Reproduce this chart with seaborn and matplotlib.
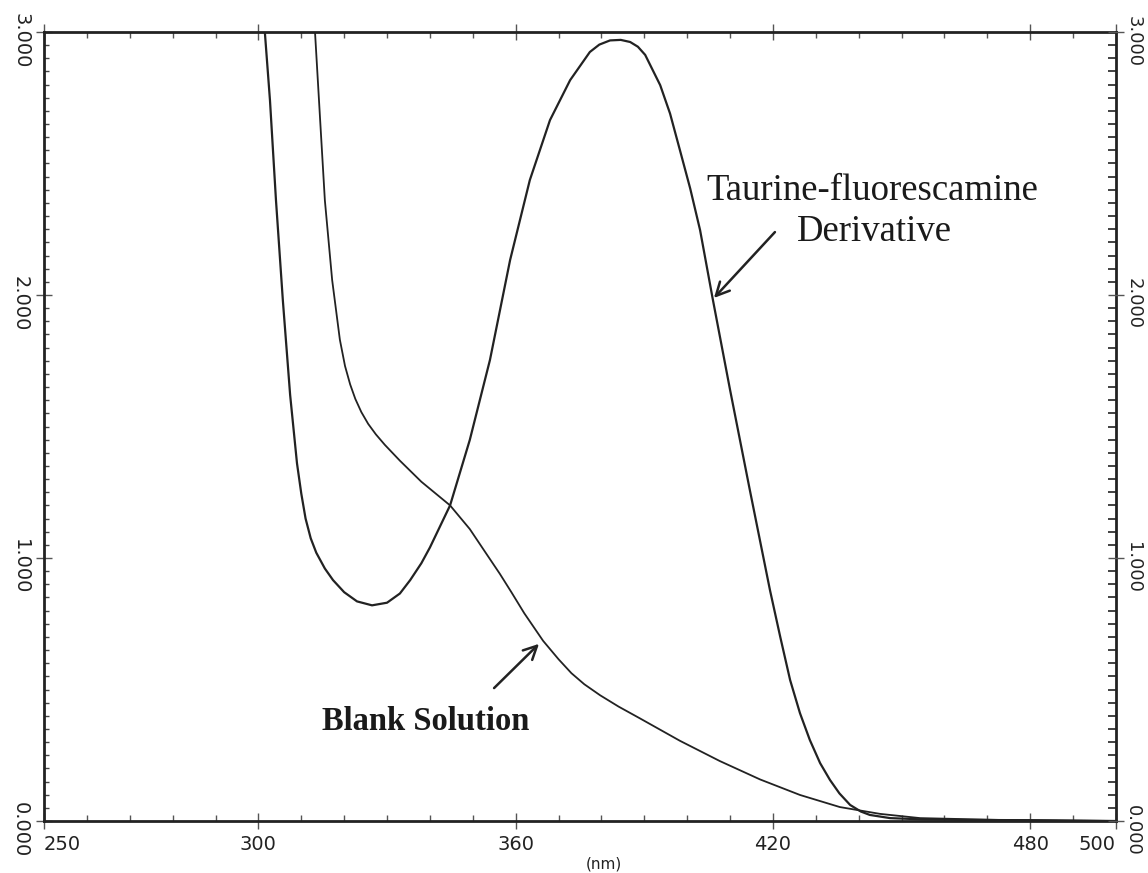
import numpy as np
import pandas as pd
import matplotlib
matplotlib.use("Agg")
import matplotlib.pyplot as plt
import matplotlib.transforms as mtransforms
from matplotlib.ticker import MultipleLocator, FixedLocator
import seaborn as sns

# ---- data ----
taurine_nm = [301.5, 302.7, 304.1, 305.7, 307.4, 309.0, 310.0, 311.0, 312.2, 313.5, 315.5,
              317.4, 320.0, 323.0, 326.5, 330.0, 333.0, 335.4, 338.0, 340.0, 344.7, 349.3,
              354.0, 358.7, 363.3, 368.0, 372.7, 377.3, 379.5, 382.0, 384.5, 386.7, 388.5,
              390.2, 393.7, 396.0, 398.3, 400.7, 403.0, 406.0, 410.0, 414.6, 419.3, 421.7,
              424.0, 426.3, 428.6, 431.0, 433.3, 435.5, 438.0, 440.5, 442.6, 447.3, 455.0,
              465.0, 480.0, 500.0]
taurine_abs = [3.0, 2.74, 2.36, 1.98, 1.62, 1.36, 1.245, 1.15, 1.075, 1.02, 0.96,
               0.916, 0.87, 0.835, 0.82, 0.83, 0.865, 0.916, 0.98, 1.04, 1.20, 1.449,
               1.753, 2.133, 2.437, 2.665, 2.817, 2.924, 2.952, 2.968, 2.970, 2.962, 2.944,
               2.913, 2.798, 2.69, 2.551, 2.405, 2.247, 1.981, 1.639, 1.259, 0.878, 0.70,
               0.536, 0.41, 0.308, 0.22, 0.156, 0.105, 0.061, 0.036, 0.023, 0.011, 0.006,
               0.004, 0.003, 0.0]
blank_nm = [313.2, 314.4, 315.5, 317.2, 319.0, 320.2, 321.4, 322.6, 324.0, 325.6, 327.4,
            329.5, 333.0, 338.0, 344.7, 349.3, 353.0, 356.3, 359.0, 362.0, 366.4, 370.0,
            373.0, 376.0, 379.7, 384.0, 389.0, 398.3, 407.6, 417.0, 426.3, 435.6, 445.0,
            454.3, 473.0, 500.0]
blank_abs = [3.0, 2.665, 2.36, 2.057, 1.83, 1.73, 1.66, 1.605, 1.555, 1.51, 1.47,
             1.43, 1.37, 1.29, 1.20, 1.11, 1.02, 0.94, 0.87, 0.79, 0.685, 0.615,
             0.562, 0.52, 0.478, 0.435, 0.39, 0.305, 0.228, 0.158, 0.099, 0.053, 0.027,
             0.011, 0.004, 0.0]
x_ticks = [250, 300, 360, 420, 480, 500]
y_ticks = [0, 1, 2, 3]
y_labels = ["0.000", "1.000", "2.000", "3.000"]

sns.set_theme(style="white")
plt.rcParams['font.family'] = ['DejaVu Sans']

INK = "#222222"
fig = plt.figure(figsize=(11.48, 8.73), dpi=100)
ax = fig.add_axes([44/1148, 52/873, (1116-44)/1148, (821-32)/873])

df_t = pd.DataFrame({"nm": taurine_nm, "abs": taurine_abs})
df_b = pd.DataFrame({"nm": blank_nm, "abs": blank_abs})
sns.lineplot(data=df_t, x="nm", y="abs", ax=ax, color=INK, lw=1.6, sort=False)
sns.lineplot(data=df_b, x="nm", y="abs", ax=ax, color=INK, lw=1.3, sort=False)

ax.set_xlim(250, 500)
ax.set_ylim(0, 3)

for s in ax.spines.values():
    s.set_color(INK)
    s.set_linewidth(2)

# x axis
ax.xaxis.set_major_locator(FixedLocator(x_ticks))
ax.set_xticklabels([str(v) for v in x_ticks], fontsize=14, color=INK)
xl = ax.get_xticklabels()
xl[0].set_ha("left")
xl[-1].set_ha("right")
ax.xaxis.set_minor_locator(MultipleLocator(10))
ax.tick_params(axis="x", which="major", direction="inout", length=12, width=1, color="#555555",
               top=True, bottom=True, pad=4)
ax.tick_params(axis="x", which="minor", direction="in", length=4, width=1, color="#555555",
               top=True, bottom=True)

# left y axis
ax.yaxis.set_major_locator(FixedLocator(y_ticks))
ax.yaxis.set_minor_locator(MultipleLocator(0.05))
ax.tick_params(axis="y", which="major", direction="inout", length=12, width=1, color="#555555",
               left=True, right=False, labelleft=True, labelright=False, pad=4)
ax.tick_params(axis="y", which="minor", direction="in", length=3.5, width=1, color="#444444",
               left=True, right=False)
ax.set_yticklabels(y_labels, rotation=-90, va="center", fontsize=14, color=INK)

# right y axis
ax2 = ax.twinx()
ax2.set_ylim(0, 3)
ax2.yaxis.set_major_locator(FixedLocator(y_ticks))
ax2.yaxis.set_minor_locator(MultipleLocator(0.05))
ax2.tick_params(axis="y", which="major", direction="inout", length=12, width=1, color="#555555",
                right=True, labelright=True, pad=0)
ax2.tick_params(axis="y", which="minor", direction="in", length=6, width=1.2, color=INK,
                right=True)
ax2.set_yticklabels(y_labels, rotation=-90, va="center", fontsize=13, color=INK)
for s in ax2.spines.values():
    s.set_visible(False)
ax2.grid(False)

# the printed y labels sit slightly below their ticks
shift = mtransforms.ScaledTranslation(0, -9/100, fig.dpi_scale_trans)
for lab in list(ax.get_yticklabels()) + list(ax2.get_yticklabels()):
    lab.set_transform(lab.get_transform() + shift)

ax.set_xlabel("(nm)", fontsize=11, labelpad=0, color=INK)
ax.xaxis.set_label_coords(0.522, -0.045)
ax.set_ylabel("")

ax.text(404.4, 2.361, "Taurine-fluorescamine", family="Liberation Serif", fontsize=26.5,
        ha="left", va="baseline", color="#1a1a1a")
ax.text(425.6, 2.205, "Derivative", family="Liberation Serif", fontsize=26.5,
        ha="left", va="baseline", color="#1a1a1a")
ax.annotate("", xy=(405.8, 1.981), xytext=(420.9, 2.247),
            arrowprops=dict(arrowstyle="->", color=INK, lw=1.8, mutation_scale=24))

ax.text(314.8, 0.346, "Blank Solution", family="Liberation Serif", fontsize=23.5,
        fontweight="bold", ha="left", va="baseline", color="#1a1a1a")
ax.annotate("", xy=(365.9, 0.681), xytext=(354.5, 0.498),
            arrowprops=dict(arrowstyle="->", color=INK, lw=1.8, mutation_scale=24))

fig.savefig("out.png", dpi=100)
